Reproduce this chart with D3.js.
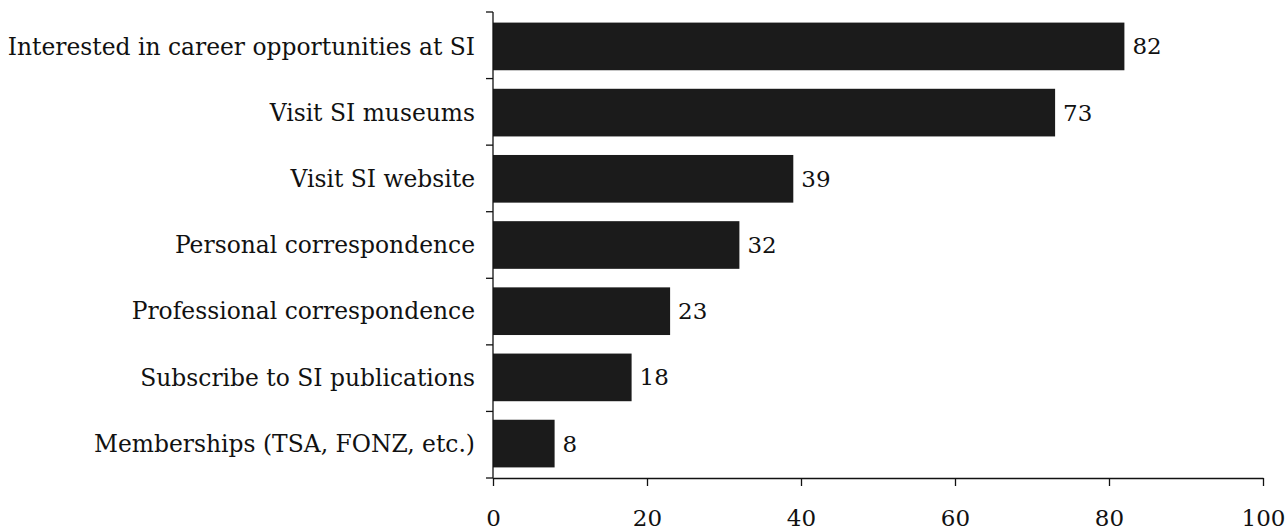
<!DOCTYPE html>
<html><head><meta charset="utf-8">
<script src="https://cdn.jsdelivr.net/npm/d3@7"></script>
<style>body{margin:0;background:#fff}svg{display:block}text{font-family:"DejaVu Serif",serif;fill:#111}</style>
</head><body><svg id="c" width="1288" height="531"></svg>
<script>
const categories = ["Interested in career opportunities at SI","Visit SI museums","Visit SI website","Personal correspondence","Professional correspondence","Subscribe to SI publications","Memberships (TSA, FONZ, etc.)"];
const values = [82,73,39,32,23,18,8];
const xTicks = [0,20,40,60,80,100];

const svg = d3.select("#c");
const m = {left:493, right:1263, top:12, bottom:478};
const x = d3.scaleLinear().domain([0,100]).range([m.left,m.right]);
const y = d3.scaleBand().domain(categories).range([m.top,m.bottom]).paddingInner(0.28).paddingOuter(0.16);
const yb = d3.scaleLinear().domain([0,categories.length]).range([m.top,m.bottom]);

svg.selectAll("rect.bar").data(values).join("rect").attr("class","bar")
  .attr("x",x(0)).attr("y",(d,i)=>y(categories[i])).attr("width",d=>x(d)-x(0)).attr("height",y.bandwidth())
  .attr("fill","#1b1b1b");

svg.selectAll("text.val").data(values).join("text").attr("class","val")
  .attr("x",d=>x(d)+8).attr("y",(d,i)=>y(categories[i])+y.bandwidth()/2).attr("dy","0.35em")
  .attr("font-size",23).text(d=>d);

svg.selectAll("text.cat").data(categories).join("text").attr("class","cat")
  .attr("x",m.left-18).attr("y",d=>y(d)+y.bandwidth()/2).attr("dy","0.35em").attr("text-anchor","end")
  .attr("font-size",23.4).text(d=>d);

// y axis line and boundary ticks
const g = svg.append("g").attr("stroke","#111").attr("stroke-width",1.3);
g.append("line").attr("x1",m.left).attr("x2",m.left).attr("y1",m.top).attr("y2",m.bottom);
g.selectAll("line.yt").data(d3.range(categories.length+1)).join("line").attr("class","yt")
  .attr("x1",m.left-7).attr("x2",m.left).attr("y1",d=>yb(d)).attr("y2",d=>yb(d));

const xa = svg.append("g").attr("transform",`translate(0,${m.bottom})`)
  .call(d3.axisBottom(x).tickValues(xTicks).tickSize(8).tickPadding(24).tickSizeOuter(0).tickFormat(d3.format("d")));
xa.select(".domain").attr("stroke","#111").attr("stroke-width",1.3);
xa.selectAll(".tick line").attr("stroke","#111").attr("stroke-width",1.3);
xa.selectAll(".tick text").attr("font-size",23).attr("font-family","DejaVu Serif, serif").attr("fill","#111");
</script></body></html>
